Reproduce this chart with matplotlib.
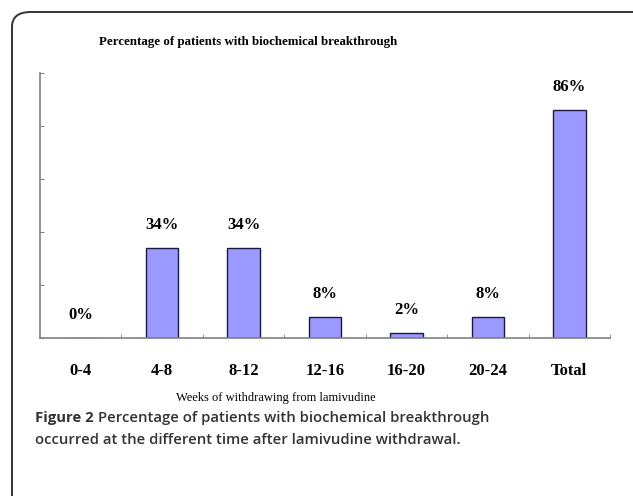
import matplotlib.pyplot as plt
from matplotlib.patches import FancyBboxPatch
from matplotlib.ticker import FixedLocator

# data
categories = ['0-4', '4-8', '8-12', '12-16', '16-20', '20-24', 'Total']
percent = [0, 34, 34, 8, 2, 8, 86]

W, H = 633, 496
fig = plt.figure(figsize=(W / 100, H / 100), dpi=100)

# rounded frame around the figure panel
frame = FancyBboxPatch((12 / W, -40 / H), (W + 40) / W, (H - 12 + 40) / H,
                       boxstyle='round,pad=0,rounding_size=0.03',
                       transform=fig.transFigure, fill=False,
                       edgecolor='#333333', linewidth=1.4, clip_on=False)
fig.patches.append(frame)

ax = fig.add_axes([40 / W, (H - 338) / H, 570 / W, 265 / H])
x = list(range(len(categories)))
bars = ax.bar(x, percent, width=0.4, color='#9999ff', edgecolor='#1a1a40', linewidth=1.0)

serif = 'Liberation Serif'
for xi, v in zip(x, percent):
    ax.annotate(f'{v}%', (xi, v), xytext=(0, 16.5), textcoords='offset points',
                ha='center', va='center', fontsize=12, fontweight='bold', family=serif)

ax.set_xlim(-0.5, len(categories) - 0.5)
ax.set_ylim(0, 100)
ax.set_xticks(x)
ax.set_xticklabels(categories, fontsize=12, fontweight='bold', family=serif)
ax.tick_params(axis='x', which='major', length=0, pad=18)
ax.xaxis.set_minor_locator(FixedLocator([i + 0.5 for i in x]))
ax.tick_params(axis='x', which='minor', direction='in', length=3, color='#808080')
ax.set_yticks(range(0, 101, 20))
ax.set_yticklabels([])
ax.tick_params(axis='y', direction='in', length=3, color='#808080')
for s in ['top', 'right']:
    ax.spines[s].set_visible(False)
for s in ['left', 'bottom']:
    ax.spines[s].set_color('#808080')
    ax.spines[s].set_linewidth(1.2)

fig.text(248 / W, 1 - 42 / H, 'Percentage of patients with biochemical breakthrough',
         ha='center', va='center', fontsize=9.3, fontweight='bold', family=serif)
fig.text(276 / W, 1 - 398 / H, 'Weeks of withdrawing from lamivudine',
         ha='center', va='center', fontsize=9.0, family=serif)

# caption
cap_font = 'Open Sans'
t1 = fig.text(35 / W, 1 - 418 / H, 'Figure 2', ha='left', va='center',
              fontsize=10.7, fontweight='bold', family=cap_font, color='#333333')
fig.canvas.draw()
bb = t1.get_window_extent()
fig.text((bb.x1 + 4) / W, 1 - 418 / H, 'Percentage of patients with biochemical breakthrough',
         ha='left', va='center', fontsize=10.7, fontweight='semibold', family=cap_font, color='#333333')
fig.text(35 / W, 1 - 440 / H, 'occurred at the different time after lamivudine withdrawal.',
         ha='left', va='center', fontsize=10.7, fontweight='semibold', family=cap_font, color='#333333')

fig.savefig('out.png', dpi=100)
